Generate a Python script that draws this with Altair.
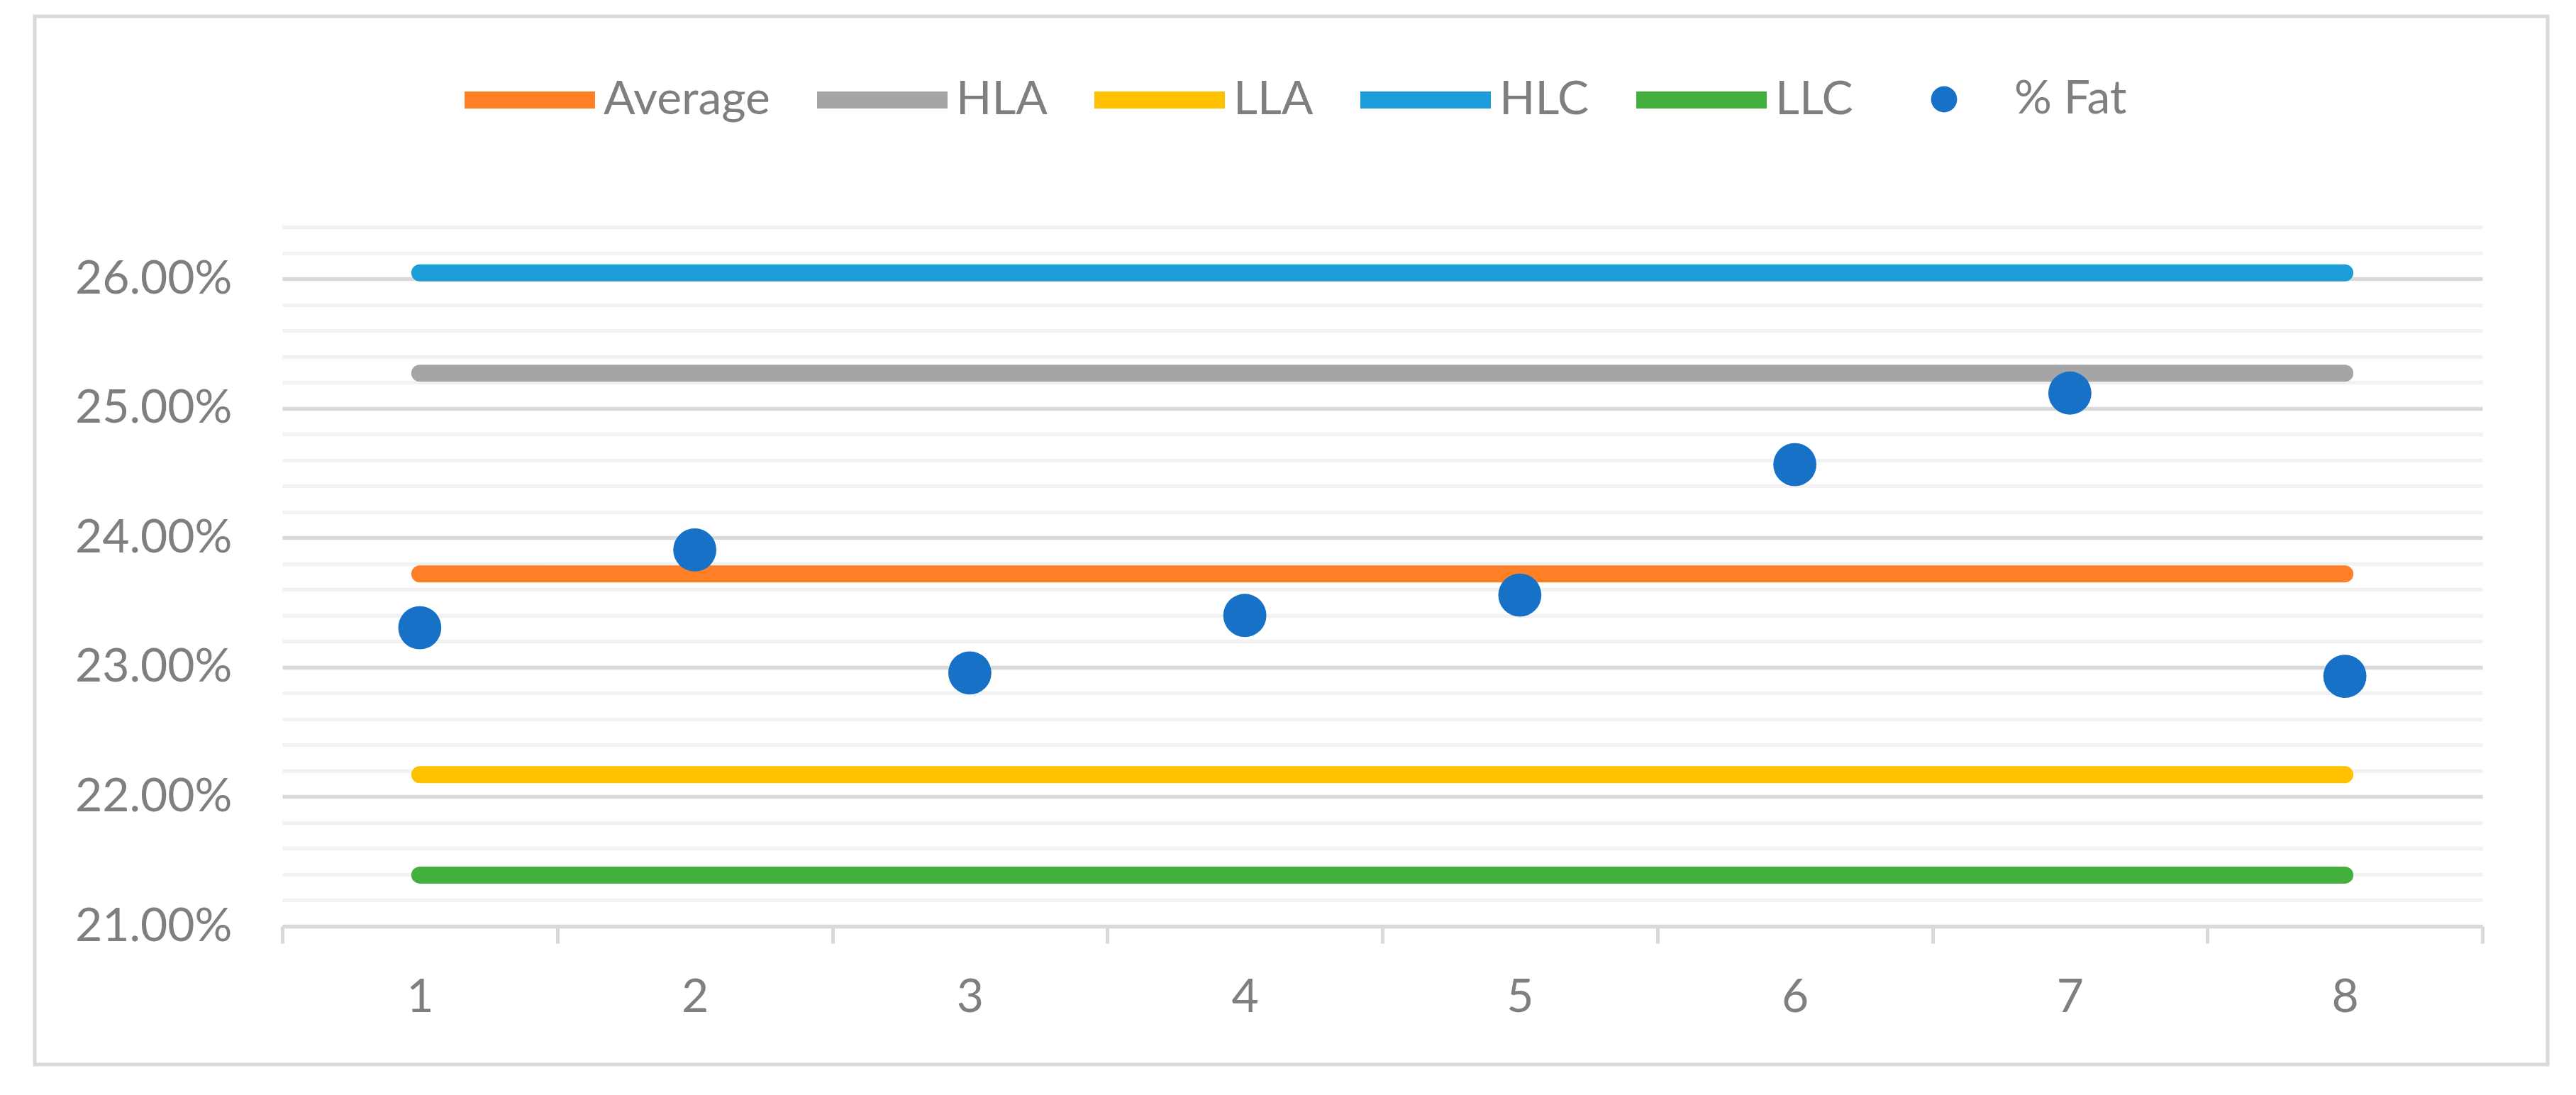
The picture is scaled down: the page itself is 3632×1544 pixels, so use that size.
import altair as alt
import pandas as pd

# ---- data ----
samples = ["1", "2", "3", "4", "5", "6", "7", "8"]
pct_fat = [0.23305, 0.23906, 0.22956, 0.23400, 0.23557, 0.24565, 0.25117, 0.22930]

series_names = ["Average", "HLA", "LLA", "HLC", "LLC"]
series_values = [0.2372, 0.2527, 0.2217, 0.26045, 0.21395]
series_colors = ["#FF7F27", "#A5A5A5", "#FFC000", "#1C9DD9", "#43AF3C"]
fat_name = "% Fat"
fat_color = "#1772C7"

y_ticks = [round(0.21 + 0.002 * i, 3) for i in range(28)]

# ---- tables ----
lines_df = pd.DataFrame(
    [{"sample": s, "series": n, "value": v}
     for n, v in zip(series_names, series_values) for s in samples]
)
fat_df = pd.DataFrame({"sample": samples, "value": pct_fat, "series": fat_name})

W, H = 3102, 986
GRAY_TXT = "#7F7F7F"
FONT = "Lato"
FS = 66

x_enc = alt.X(
    "sample:O",
    sort=samples,
    scale=alt.Scale(type="band", paddingInner=0, paddingOuter=0),
    axis=alt.Axis(
        title=None, labelAngle=0, grid=False,
        tickBand="extent", ticks=True, tickSize=24, tickWidth=5, tickColor="#D9D9D9",
        domain=True, domainColor="#D9D9D9", domainWidth=5,
        labelFont=FONT, labelFontSize=FS, labelColor=GRAY_TXT, labelPadding=44,
    ),
)

y_enc = alt.Y(
    "value:Q",
    scale=alt.Scale(domain=[0.21, 0.264], nice=False, zero=False),
    axis=alt.Axis(
        title=None, values=y_ticks, tickCount=200, ticks=False, tickSize=0, domain=False,
        grid=True, gridWidth=5.5,
        gridColor={"condition": {"test": "round(datum.value*1000) % 10 === 0", "value": "#D9D9D9"},
                   "value": "#F2F2F2"},
        labelExpr="round(datum.value*1000) % 10 === 0 ? format(datum.value, '.2%') : ''",
        labelOverlap=False, labelLimit=1000, labelFont=FONT, labelFontSize=FS,
        labelColor=GRAY_TXT, labelPadding=71,
    ),
)

lines = alt.Chart(lines_df).mark_line(strokeWidth=24, strokeCap="round").encode(
    x=x_enc,
    y=y_enc,
    color=alt.Color(
        "series:N",
        scale=alt.Scale(domain=series_names, range=series_colors),
        legend=alt.Legend(
            orient="none", legendX=241, legendY=-283, direction="horizontal",
            title=None, symbolType="stroke", symbolSize=33856, symbolStrokeWidth=24,
            symbolOffset=4,
            labelFont=FONT, labelFontSize=FS, labelColor=GRAY_TXT, labelOffset=0,
            labelLimit=1000, columnPadding=18, padding=0,
        ),
    ),
)

points = alt.Chart(fat_df).mark_circle(size=3700, opacity=1).encode(
    x=alt.X("sample:O", sort=samples),
    y=alt.Y("value:Q"),
    color=alt.Color(
        "series:N",
        scale=alt.Scale(domain=[fat_name], range=[fat_color]),
        legend=alt.Legend(
            orient="none", legendX=2310, legendY=-213, title=None,
            symbolType="circle", symbolSize=1352, symbolOpacity=1,
            labelFont=FONT, labelFontSize=FS, labelColor=GRAY_TXT, labelOffset=66,
            labelLimit=1000, padding=0,
        ),
    ),
)

frame = alt.Chart(pd.DataFrame({"k": [0]})).mark_rect(
    fillOpacity=0, stroke="#D9D9D9", strokeWidth=5
).encode(
    x=alt.value(-349), x2=alt.value(3194), y=alt.value(-297), y2=alt.value(1181)
)

chart = (
    alt.layer(frame, lines, points)
    .resolve_scale(color="independent")
    .properties(
        width=W, height=H,
        autosize=alt.AutoSizeParams(type="none"),
        padding={"left": 390, "top": 312, "right": 124, "bottom": 230},
        background="white",
    )
    .configure_view(stroke=None)
)

chart.save("out.html", embed_options={"renderer": "svg", "actions": False})
